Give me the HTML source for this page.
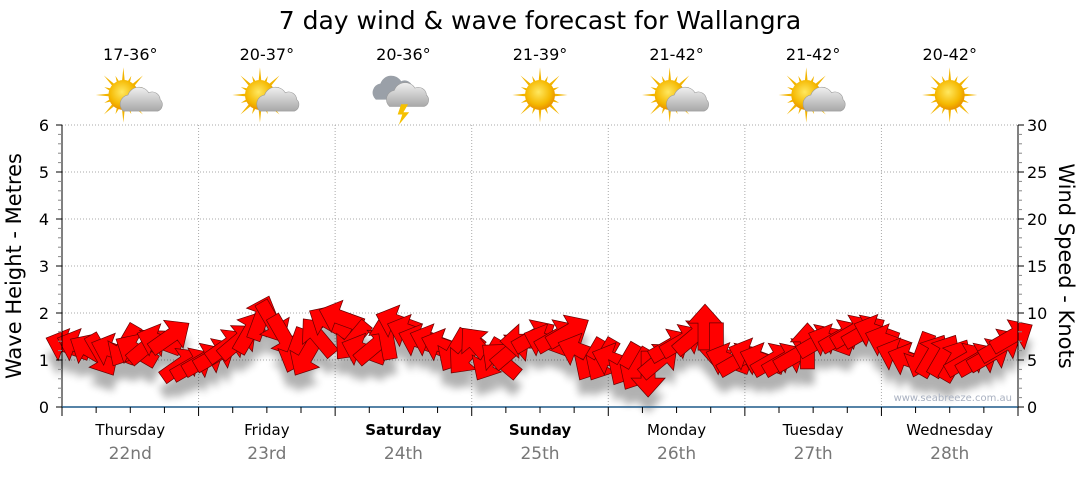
<!DOCTYPE html>
<html><head><meta charset="utf-8"><style>
body{margin:0;background:#fff;width:1080px;height:475px;overflow:hidden;font-family:"Liberation Sans","DejaVu Sans",sans-serif}
svg text{font-family:"DejaVu Sans","Liberation Sans",sans-serif}
</style></head><body>
<svg id="c" width="1080" height="475">
<defs>
<filter id="sh" x="-50%" y="-50%" width="200%" height="200%"><feGaussianBlur stdDeviation="4"/></filter>
<radialGradient id="sun" cx="0.45" cy="0.4" r="0.6"><stop offset="0" stop-color="#ffe860"/><stop offset="0.7" stop-color="#f5b800"/><stop offset="1" stop-color="#e89000"/></radialGradient>
<linearGradient id="cl" x1="0" y1="0" x2="0" y2="1"><stop offset="0" stop-color="#f0f0f0"/><stop offset="1" stop-color="#a8a8a8"/></linearGradient>
</defs>
<text x="540" y="29" text-anchor="middle" font-size="25">7 day wind &amp; wave forecast for Wallangra</text>
<g id="grid"></g><g id="icons"></g><g id="shadows" filter="url(#sh)" opacity="0.3"></g><g id="arrows"></g><g id="axes"></g>
<text x="1012" y="401" text-anchor="end" font-size="10" fill="#a8b0c0">www.seabreeze.com.au</text>
<text transform="translate(21,266) rotate(-90)" text-anchor="middle" font-size="21">Wave Height - Metres</text>
<text transform="translate(1059,266) rotate(90)" text-anchor="middle" font-size="21">Wind Speed - Knots</text>
</svg>
<script>
const days=["Thursday","Friday","Saturday","Sunday","Monday","Tuesday","Wednesday"];
const dates=["22nd","23rd","24th","25th","26th","27th","28th"];
const temps=["17-36°","20-37°","20-36°","21-39°","21-42°","21-42°","20-42°"];
const icons=["partly","partly","storm","sun","partly","partly","sun"];
const waveTicks=[0,1,2,3,4,5,6];
const windTicks=[0,5,10,15,20,25,30];
const windSpeed=[6.5,6.5,6,5.5,6,6.5,6,6.5,7,7.5,4.5,4.5,
5,5.5,6.5,7,8,9.5,9,7.5,6,5.5,7.5,9,
9.5,7,6,6.5,7.5,9,8,7,7,6.5,6,5.5,
6.5,5,5,6,7,7.5,7,7.5,8,6,5,5,
5,4.5,4,3.5,5,6.5,7,7.5,8.5,6.5,5,5,
5.5,5,5,5,5.5,6.5,7,7,7.5,8,8,8,
7,5.5,5,5.5,5.5,5.5,5,5,5,5.5,6.5,7.5];
const windDir=[200,200,210,60,200,120,210,-40,200,-35,-35,-30,
-30,-30,-35,-40,-60,-70,60,60,110,120,-130,-150,
200,130,200,-40,-100,200,200,200,200,200,120,130,
-130,120,-140,-40,180,-30,200,-30,-30,200,120,120,
200,120,120,90,-40,-30,-30,-40,-90,90,200,-30,
200,200,-30,-30,-30,-90,-30,200,-30,-30,-30,200,
200,200,200,110,-60,-60,-60,-30,-30,-30,-30,-30];
const X0=62,X1=1018,Y0=407,Y1=125;
const dayW=(X1-X0)/7;
const yWave=v=>Y0-(v/6)*(Y0-Y1);
const yWind=v=>Y0-(v/30)*(Y0-Y1);
const xIdx=i=>X0+(i+0.5)*(X1-X0)/windSpeed.length;
const NS="http://www.w3.org/2000/svg";
function mk(t,a,p){const e=document.createElementNS(NS,t);for(const k in a)e.setAttribute(k,a[k]);p.appendChild(e);return e;}
const grid=document.getElementById('grid'),axes=document.getElementById('axes'),ic=document.getElementById('icons');
for(let v=1;v<=6;v++){const l=mk('line',{x1:X0,x2:X1,y1:yWave(v),y2:yWave(v),stroke:'#aaa','stroke-dasharray':'1,2'},grid);

}
for(let d=1;d<7;d++){const x=X0+d*dayW;const l=mk('line',{x1:x,x2:x,y1:Y1,y2:Y0,stroke:'#aaa','stroke-dasharray':'1,2'},grid);

}
mk('line',{x1:X0,x2:X0,y1:Y1,y2:Y0,stroke:'#000'},axes);
mk('line',{x1:X1,x2:X1,y1:Y1,y2:Y0,stroke:'#000'},axes);
const xa=mk('line',{x1:X0,x2:X1,y1:Y0,y2:Y0,stroke:'#1f5a8a','stroke-width':1.5},axes);


for(let k=0;k<=30;k++){const y=Y0-k*(Y0-Y1)/30;const maj=k%5==0;
mk('line',{x1:X0-(maj?6:4),x2:X0,y1:y,y2:y,stroke:maj?'#000':'#888'},axes);
mk('line',{x1:X1,x2:X1+(maj?6:4),y1:y,y2:y,stroke:maj?'#000':'#888'},axes);}
waveTicks.forEach(v=>{const t=mk('text',{x:49,y:yWave(v)+6,'text-anchor':'end','font-size':16},axes);t.textContent=v;

});
windTicks.forEach(v=>{const t=mk('text',{x:1027,y:yWind(v)+6,'font-size':16},axes);t.textContent=v;

});
for(let k=0;k<=28;k++){const x=X0+k*dayW/4;mk('line',{x1:x,x2:x,y1:Y0,y2:Y0+(k%4==0?9:6),stroke:'#000'},axes);}
days.forEach((d,i)=>{const cx=X0+(i+0.5)*dayW;
const t=mk('text',{x:cx,y:435,'text-anchor':'middle','font-size':15,'font-weight':(i==2||i==3)?'bold':'normal'},axes);t.textContent=d;


const t2=mk('text',{x:cx,y:459,'text-anchor':'middle','font-size':17,fill:'#777'},axes);t2.textContent=dates[i];


const t3=mk('text',{x:cx,y:60,'text-anchor':'middle','font-size':16},ic);t3.textContent=temps[i];


const g=mk('g',{transform:`translate(${cx},95) scale(1.15)`},ic);


const type=icons[i];
if(type!='storm'){const sx=type=='sun'?0:-6;
for(let r=0;r<16;r++){const a=r*Math.PI/8;const L=r%2?18:24;
mk('polygon',{points:`${sx+Math.cos(a-0.12)*11},${Math.sin(a-0.12)*11} ${sx+Math.cos(a)*L},${Math.sin(a)*L} ${sx+Math.cos(a+0.12)*11},${Math.sin(a+0.12)*11}`,fill:'#f2b400'},g);}
mk('circle',{cx:sx,cy:0,r:13,fill:'url(#sun)'},g);}
if(type=='partly'){mk('path',{d:'M-6,14 a8,8 0 0 1 4,-14 a10,10 0 0 1 18,-2 a7,7 0 0 1 10,6 a6,6 0 0 1 -2,10 z',fill:'url(#cl)',stroke:'#999','stroke-width':0.5},g);}
if(type=='storm'){mk('path',{d:'M-24,4 a8,8 0 0 1 4,-14 a10,10 0 0 1 18,-2 a7,7 0 0 1 10,6 a6,6 0 0 1 -2,10 z',fill:'#9aa0a8'},g);
mk('path',{d:'M-12,10 a8,8 0 0 1 4,-14 a10,10 0 0 1 18,-2 a7,7 0 0 1 10,6 a6,6 0 0 1 -2,10 z',fill:'url(#cl)',stroke:'#999','stroke-width':0.5},g);
mk('polygon',{points:'-2,8 4,8 0,15 5,15 -4,26 -1,17 -5,17',fill:'#f5c000'},g);}
});
const ar=document.getElementById('arrows'),sh=document.getElementById('shadows');
windSpeed.forEach((s,i)=>{const x=xIdx(i),y=yWind(s),a=windDir[i];
const pts='-23,-7 4,-7 4,-17 23,0 4,17 4,7 -23,7';
const shd=mk('polygon',{points:pts,fill:'#000',transform:`translate(${x},${y+16}) rotate(${a})`},sh);


const p=mk('polygon',{points:pts,fill:'#f00',stroke:'#600','stroke-width':0.7,transform:`translate(${x},${y}) rotate(${a})`},ar);

});
</script>
</body></html>
